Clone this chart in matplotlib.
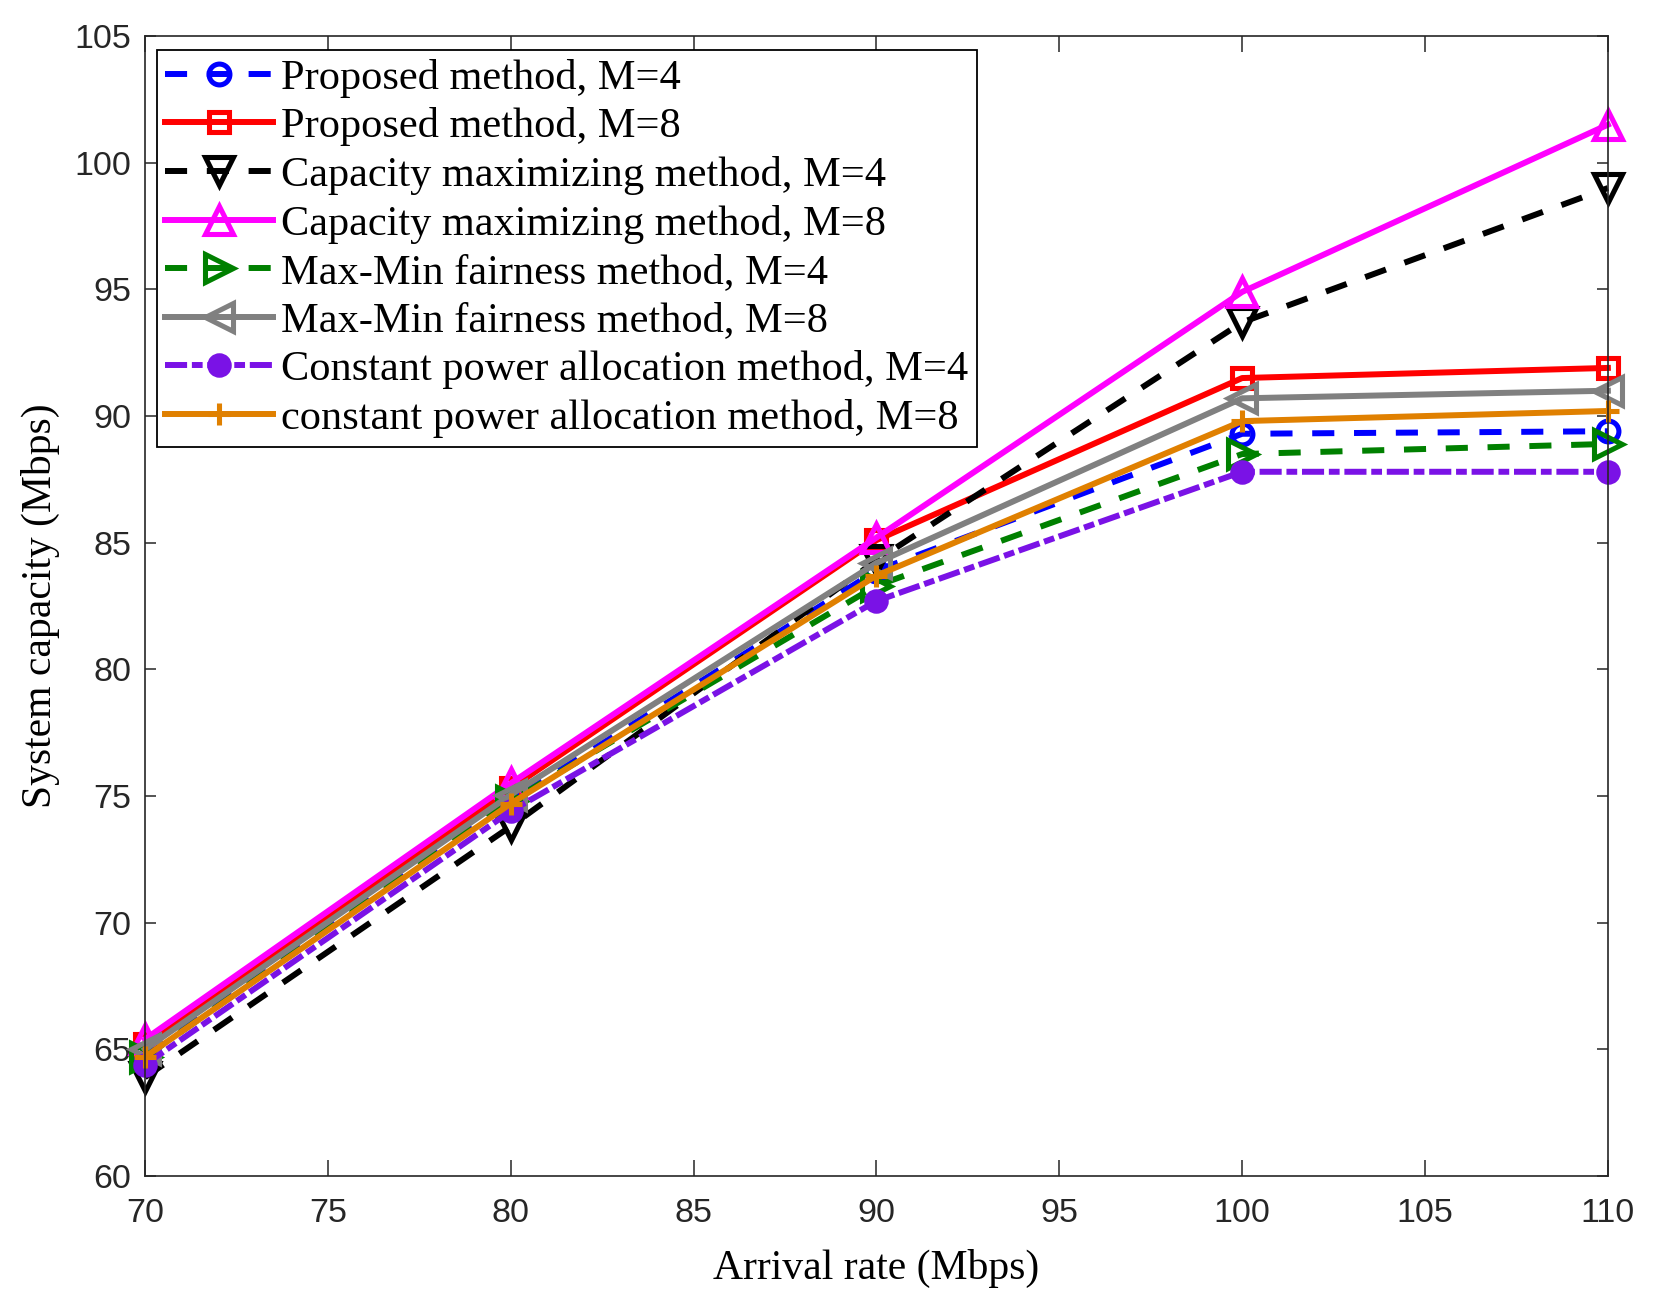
import matplotlib

matplotlib.use("Agg")
import matplotlib.pyplot as plt

# arrival rate (Mbps) and system capacity (Mbps) per method
arrival_rate = [70, 80, 90, 100, 110]
proposed_m4 = [64.8, 74.8, 83.9, 89.3, 89.4]
proposed_m8 = [65.2, 75.3, 85.1, 91.5, 91.9]
capmax_m4 = [63.9, 73.8, 84.3, 93.7, 99.0]
capmax_m8 = [65.4, 75.5, 85.2, 94.9, 101.5]
maxmin_m4 = [64.7, 74.8, 83.3, 88.5, 88.9]
maxmin_m8 = [65.0, 75.05, 84.2, 90.7, 91.0]
const_m4 = [64.4, 74.4, 82.7, 87.8, 87.8]
const_m8 = [64.7, 74.7, 83.7, 89.8, 90.2]

labels = [
    "Proposed method, M=4",
    "Proposed method, M=8",
    "Capacity maximizing method, M=4",
    "Capacity maximizing method, M=8",
    "Max-Min fairness method, M=4",
    "Max-Min fairness method, M=8",
    "Constant power allocation method, M=4",
    "constant power allocation method, M=8",
]
x_ticks = [70, 75, 80, 85, 90, 95, 100, 105, 110]
y_ticks = [60, 65, 70, 75, 80, 85, 90, 95, 100, 105]

SERIF = "Liberation Serif"
SANS = "Liberation Sans"
LW = 4.3
DASH = (3.7, 3.3)
DASHDOT = (3.7, 0.8, 1.8, 0.8)

# (values, color, marker, markersize, dashes, filled)
series = [
    (proposed_m4, "#0000ff", "o", 15, DASH, False),
    (proposed_m8, "#ff0000", "s", 14, None, False),
    (capmax_m4, "#000000", "v", 20, DASH, False),
    (capmax_m8, "#ff00ff", "^", 20, None, False),
    (maxmin_m4, "#008000", ">", 20, DASH, False),
    (maxmin_m8, "#808080", "<", 20, None, False),
    (const_m4, "#7a12e6", "o", 14, DASHDOT, True),
    (const_m8, "#e08000", "+", 16, None, False),
]

fig = plt.figure(figsize=(16.7, 13.06), dpi=100)
ax = fig.add_axes([0.0868, 0.0995, 0.876, 0.8729])

for (vals, color, marker, ms, dashes, filled), label in zip(series, labels):
    line, = ax.plot(
        arrival_rate, vals, color=color, lw=LW, marker=marker, markersize=ms,
        markeredgewidth=LW * 0.85, markerfacecolor=color if filled else "none",
        markeredgecolor=color, label=label, clip_on=False,
    )
    if dashes is not None:
        line.set_dashes(dashes)

ax.set_xlim(70, 110)
ax.set_ylim(60, 105)
ax.set_xticks(x_ticks)
ax.set_yticks(y_ticks)
for lab in ax.get_xticklabels() + ax.get_yticklabels():
    lab.set_fontfamily(SANS)
    lab.set_fontsize(24.5)
    lab.set_color("#262626")
ax.tick_params(axis="x", direction="in", length=11.5, width=1.1, pad=16,
               top=True, colors="#262626")
ax.tick_params(axis="y", direction="in", length=8, width=1.1, pad=10,
               right=True, colors="#262626")
for sp in ax.spines.values():
    sp.set_linewidth(1.2)
    sp.set_color("#262626")

ax.set_xlabel("Arrival rate (Mbps)", fontfamily=SERIF, fontsize=30, labelpad=14)
ax.set_ylabel("System capacity (Mbps)", fontfamily=SERIF, fontsize=30, labelpad=10)

leg = ax.legend(
    loc="upper left", bbox_to_anchor=(0.008, 0.9877), borderaxespad=0,
    prop={"family": SERIF, "size": 30.5}, handlelength=2.55, handletextpad=0.19,
    labelspacing=0.23, borderpad=0.2, fancybox=False, framealpha=1,
    edgecolor="black",
)
leg.get_frame().set_linewidth(1.3)

fig.savefig("out.png", dpi=100, facecolor="white")
